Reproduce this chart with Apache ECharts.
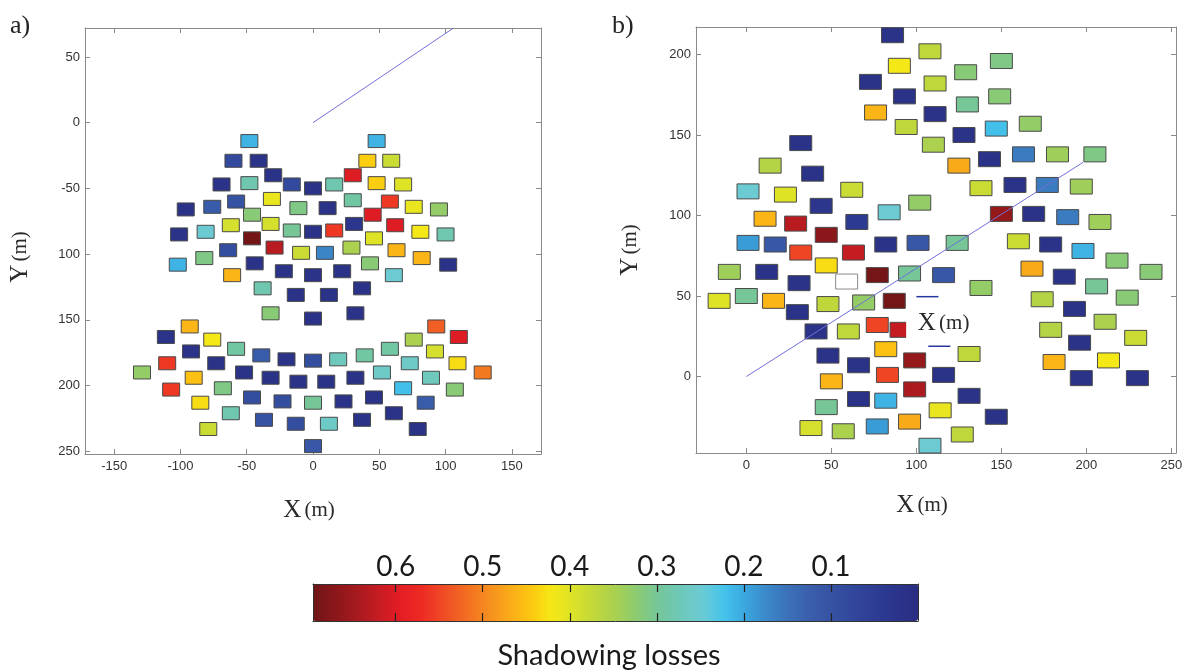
<!DOCTYPE html>
<html><head><meta charset="utf-8">
<script src="https://cdn.jsdelivr.net/npm/echarts@6/dist/echarts.min.js"></script>
<style>html,body{margin:0;padding:0;background:#fff}#c{width:1194px;height:671px}</style>
</head><body><div id="c"></div>
<script>
// ---------- Panel a) : heliostat field, X/Y in metres, shadowing loss ----------
const aX = [-48,48,-60,-41,41,59,-30,30,-69,-48,-16,0,16,48,68,-58,-31,30,58,-96,
  -76,-46,-11,11,45,76,95,-101,-81,-62,-32,-16,0,16,31,62,81,100,-46,46,
  -64,-29,-9,9,29,63,-102,-82,-44,43,82,102,-61,-22,0,22,61,-38,37,-13,
  12,-32,0,32,
  -93,93,-111,-76,76,110,-92,-58,-39,58,92,-110,-73,-20,0,19,39,73,109,-129,
  -90,-52,-32,-11,10,32,52,89,128,-107,-68,68,107,-85,-46,-23,0,23,46,85,
  -62,61,-37,-13,12,37,-79,79,0];
const aY = [-14,-14,-29,-29,-29,-29,-40,-40,-47,-46,-47,-50,-47,-46,-47,-60,-58,-59,-60,-66,
  -64,-70,-65,-65,-70,-64,-66,-85,-83,-78,-77,-82,-83,-82,-77,-78,-83,-85,-88,-88,
  -97,-95,-99,-99,-95,-97,-108,-103,-107,-107,-103,-108,-116,-113,-116,-113,-116,-126,-126,-131,
  -131,-145,-149,-145,
  -155,-155,-163,-165,-165,-163,-174,-172,-177,-172,-174,-183,-183,-180,-181,-180,-177,-183,-183,-190,
  -194,-190,-194,-197,-197,-194,-190,-194,-190,-203,-202,-202,-203,-213,-209,-212,-213,-212,-209,-213,
  -221,-221,-226,-229,-229,-226,-233,-233,-246];
const aLoss = [0.21,0.21,0.08,0.02,0.44,0.38,0.02,0.6,0.02,0.28,0.08,0.02,0.28,0.44,0.4,0.1,0.41,0.29,0.56,0.02,
  0.12,0.32,0.31,0.02,0.6,0.41,0.33,0.02,0.25,0.39,0.39,0.3,0.02,0.56,0.03,0.6,0.42,0.28,0.69,0.4,
  0.09,0.63,0.38,0.17,0.35,0.46,0.21,0.31,0.02,0.32,0.46,0.02,0.46,0.02,0.02,0.02,0.25,0.28,0.02,0.02,
  0.02,0.32,0.02,0.02,
  0.46,0.53,0.02,0.42,0.35,0.6,0.02,0.29,0.12,0.29,0.39,0.56,0.02,0.02,0.09,0.27,0.29,0.26,0.43,0.33,
  0.45,0.02,0.02,0.02,0.02,0.02,0.26,0.27,0.51,0.56,0.31,0.22,0.32,0.43,0.09,0.09,0.3,0.02,0.02,0.12,
  0.28,0.02,0.1,0.09,0.26,0.02,0.38,0.02,0.11];
const aLineX = [0, 106];
const aLineY = [0, 72];
const aTicksX = [-150,-100,-50,0,50,100,150];
const aTicksY = [50,0,-50,-100,-150,-200,-250];

// ---------- Panel b) ----------
const bX = [86,108,90,129,150,73,111,93,149,130,76,111,94,147,167,128,110,143,163,183,
  205,125,32,14,39,1,23,62,138,158,177,197,44,102,11,29,65,84,150,169,
  189,208,1,17,47,32,63,82,101,124,160,179,198,218,-10,12,47,77,96,116,
  168,187,238,31,206,138,-16,0,16,48,69,87,174,224,30,193,41,60,77,91,
  179,211,229,196,48,82,131,66,99,181,213,50,83,116,197,230,99,131,47,66,
  82,114,147,38,57,77,96,127,108];
const bY = [212,202,193,189,196,183,182,174,174,169,164,163,155,154,157,150,144,135,138,138,
  138,131,145,131,126,115,113,116,117,119,119,118,106,108,98,95,96,102,101,101,
  99,96,83,82,88,77,77,82,83,83,84,82,78,72,65,65,69,63,64,63,
  67,62,65,58,56,55,47,50,47,45,46,47,48,49,40,42,28,28,32,29,
  29,34,24,21,13,17,14,7,10,9,10,-3,1,1,-1,-1,-8,-12,-19,-14,
  -15,-21,-25,-32,-34,-31,-28,-36,-43];
const bLoss = [0.02,0.37,0.42,0.32,0.31,0.02,0.37,0.02,0.32,0.3,0.46,0.02,0.37,0.22,0.33,0.02,0.35,0.02,0.16,0.34,
  0.31,0.47,0.02,0.36,0.02,0.25,0.4,0.38,0.38,0.02,0.16,0.34,0.03,0.33,0.46,0.63,0.04,0.25,0.66,0.02,
  0.16,0.34,0.19,0.11,0.67,0.55,0.62,0.02,0.11,0.3,0.38,0.02,0.21,0.32,0.34,0.02,0.43,0.69,0.3,0.11,
  0.47,0.02,0.32,0.02,0.3,0.33,0.4,0.3,0.46,0.37,0.33,0.69,0.36,0.32,0.02,0.02,0.02,0.37,0.55,0.62,
  0.36,0.35,0.38,0.02,0.02,0.45,0.37,0.02,0.66,0.46,0.42,0.46,0.55,0.02,0.02,0.02,0.64,0.02,0.3,0.02,
  0.21,0.41,0.02,0.39,0.35,0.19,0.47,0.37,0.25];
const bEmptyX = [59];
const bEmptyY = [59];
const bLineX = [0, 198];
const bLineY = [0, 133];
const bTicksX = [0,50,100,150,200,250];
const bTicksY = [0,50,100,150,200];
// pasted "X (m)" label patch inside panel b (data coords)
const bPatchX = [94, 131];
const bPatchY = [52, 19];
const bPatchLabel = [116, 33];
const bDashX1 = [100, 113], bDashY1 = [49.6, 49.6];
const bDashX2 = [107, 120], bDashY2 = [18.8, 18.8];

// ---------- Colour bar ----------
const cbMin = 0, cbMax = 0.695;
const cbTicks = [0.6,0.5,0.4,0.3,0.2,0.1];
const cbTitle = 'Shadowing losses';

const lossColors = ['#292d82','#2b348b','#2e3d94','#31479b','#3652a2','#3a5eab','#3b70b8','#3b88c8','#3aa6de','#44c4ec',
  '#6ccbd4','#6ec8b8','#74c69a','#8ccb72','#a8d050','#c2d83a','#dce228','#f6e814','#fdc411','#f9a81a',
  '#f58a1f','#f26a23','#ef4a25','#ed2a24','#e41c24','#c41c22','#a41a1e','#8a1719','#6e1416'];

const chart = echarts.init(document.getElementById('c'));
const axisGray = '#8a8a8a';
const tickFont = {color:'#333', fontFamily:'Liberation Sans', fontSize:13};

function rectRenderer(w, h, fixedFill, stroke) {
  return function (params, api) {
    const c = api.coord([api.value(0), api.value(1)]);
    const cs = params.coordSys;
    const shape = echarts.graphic.clipRectByRect(
      {x: c[0] - w / 2, y: c[1] - h / 2, width: w, height: h},
      {x: cs.x, y: cs.y, width: cs.width, height: cs.height});
    if (!shape) return null;
    return {type: 'rect', shape: shape,
      style: {fill: fixedFill || api.visual('color'), stroke: stroke, lineWidth: 1}};
  };
}
function boxX(grid, pos, min, max, ticks, labels) {
  return {type:'value', gridIndex:grid, position:pos, min:min, max:max,
    axisLine:{show:true, onZero:false, lineStyle:{color:axisGray, width:1}},
    axisTick:{show:true, inside:true, length:5, customValues:ticks, lineStyle:{color:axisGray}},
    axisLabel:Object.assign({show:labels, customValues:ticks, margin:6}, tickFont),
    splitLine:{show:false}};
}
function boxY(grid, pos, min, max, ticks, labels, fmt) {
  const ax = boxX(grid, pos, min, max, ticks, labels);
  ax.axisLabel.margin = 5;
  if (fmt) ax.axisLabel.formatter = fmt;
  return ax;
}
function cbAxis(pos, labels, isY) {
  return {type:'value', gridIndex:2, position:pos, min: isY ? 0 : cbMin, max: isY ? 1 : cbMax,
    inverse: !isY, z: 10,
    axisLine:{show:true, onZero:false, lineStyle:{color:'#333', width:1}},
    axisTick:{show:!isY, inside:true, length:8, customValues:cbTicks, lineStyle:{color:'#222', width:1.2}},
    axisLabel:{show:labels, customValues:cbTicks, formatter:v => v.toFixed(1), margin:3,
      color:'#1a1a1a', fontFamily:'Lato', fontSize:28},
    splitLine:{show:false}};
}
const zip3 = (xs, ys, vs) => xs.map((x, i) => [x, ys[i], vs[i]]);
const zip2 = (xs, ys) => xs.map((x, i) => [x, ys[i]]);
const aFmt = v => (v < -50 ? String(-v) : String(v));

function axisTitle(txt, x, y, rot) {
  return {type:'text', x:x, y:y, rotation: rot || 0,
    style:{text:'{x|' + txt + '} {m|(m)}', align:'center', verticalAlign:'middle',
      rich:{x:{fontFamily:'Liberation Serif', fontSize:25, fill:'#2a2a2a'},
            m:{fontFamily:'Liberation Serif', fontSize:21, fill:'#2a2a2a'}}}};
}

chart.setOption({
  animation:false,
  backgroundColor:'#fff',
  grid:[
    {left:85, top:28, width:456, height:426},
    {left:696, top:27, width:480, height:426},
    {left:313, top:584, width:605, height:37}
  ],
  xAxis:[
    boxX(0,'bottom',-172,172,aTicksX,true),
    boxX(0,'top',-172,172,aTicksX,false),
    boxX(1,'bottom',-29.6,252.7,bTicksX,true),
    boxX(1,'top',-29.6,252.7,bTicksX,false),
    cbAxis('top', true, false),
    cbAxis('bottom', false, false)
  ],
  yAxis:[
    boxY(0,'left',-252,72,aTicksY,true,aFmt),
    boxY(0,'right',-252,72,aTicksY,false),
    boxY(1,'left',-47.5,217.1,bTicksY,true),
    boxY(1,'right',-47.5,217.1,bTicksY,false),
    cbAxis('left', false, true),
    cbAxis('right', false, true)
  ],
  visualMap:{
    type:'continuous', min:cbMin, max:cbMax, dimension:2, seriesIndex:[0,2],
    inRange:{color:lossColors}, orient:'horizontal', inverse:true,
    left:313, top:584, itemWidth:37, itemHeight:605, padding:0,
    calculable:false, hoverLink:false, text:null, z:1
  },
  series:[
    {type:'custom', xAxisIndex:0, yAxisIndex:0, data:zip3(aX,aY,aLoss),
     encode:{x:0,y:1}, renderItem:rectRenderer(17,13,null,'#4a4a4a'), z:2},
    {type:'line', xAxisIndex:0, yAxisIndex:0, data:zip2(aLineX,aLineY), symbol:'none',
     lineStyle:{color:'#7070d8', width:1}, z:3, silent:true},
    {type:'custom', xAxisIndex:2, yAxisIndex:2, data:zip3(bX,bY,bLoss),
     encode:{x:0,y:1}, renderItem:rectRenderer(22,15,null,'#4a4a4a'), z:2},
    {type:'custom', xAxisIndex:2, yAxisIndex:2, data:zip2(bEmptyX,bEmptyY),
     encode:{x:0,y:1}, renderItem:rectRenderer(22,15,'#ffffff','#8a8a8a'), z:2},
    {type:'line', xAxisIndex:2, yAxisIndex:2, data:zip2(bLineX,bLineY), symbol:'none',
     lineStyle:{color:'#7070d8', width:1}, z:6, silent:true}
  ]
});

const P = (p) => chart.convertToPixel({gridIndex:1}, p);
const pa = P([bPatchX[0], bPatchY[0]]), pb = P([bPatchX[1], bPatchY[1]]);
const pl = P(bPatchLabel);
const d1a = P([bDashX1[0], bDashY1[0]]), d1b = P([bDashX1[1], bDashY1[1]]);
const d2a = P([bDashX2[0], bDashY2[0]]), d2b = P([bDashX2[1], bDashY2[1]]);

chart.setOption({
  graphic:[
    {type:'text', x:10, y:26, style:{text:'a)', fontFamily:'Liberation Serif', fontSize:26, fill:'#222', verticalAlign:'middle'}},
    {type:'text', x:612, y:26, style:{text:'b)', fontFamily:'Liberation Serif', fontSize:26, fill:'#222', verticalAlign:'middle'}},
    axisTitle('Y', 20, 257, Math.PI/2),
    axisTitle('X', 309, 510),
    axisTitle('Y', 630, 250, Math.PI/2),
    axisTitle('X', 922, 505),
    {type:'rect', z:20, shape:{x:pa[0], y:pa[1], width:pb[0]-pa[0], height:pb[1]-pa[1]}, style:{fill:'#fff'}},
    {type:'line', z:21, shape:{x1:d1a[0], y1:d1a[1], x2:d1b[0], y2:d1b[1]}, style:{stroke:'#2a36a0', lineWidth:1.5}},
    {type:'line', z:21, shape:{x1:d2a[0], y1:d2a[1], x2:d2b[0], y2:d2b[1]}, style:{stroke:'#2a36a0', lineWidth:1.5}},
    Object.assign(axisTitle('X', pl[0], pl[1]), {z:22}),
    {type:'text', x:609, y:656, style:{text:cbTitle, fontFamily:'Lato', fontSize:29, fill:'#1a1a1a', align:'center', verticalAlign:'middle'}}
  ]
});
</script>
</body></html>
